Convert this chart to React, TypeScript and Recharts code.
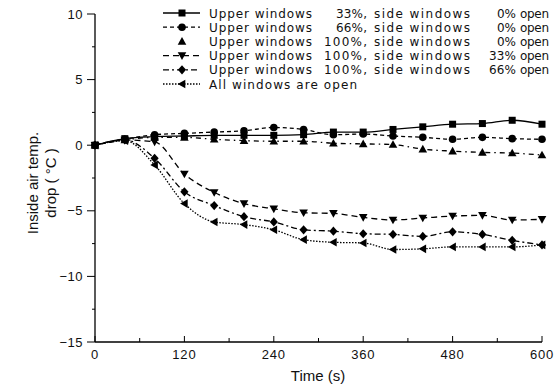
import { CartesianGrid, Line, LineChart, XAxis, YAxis } from "recharts";

const times = [0, 40, 80, 120, 160, 200, 240, 280, 320, 360, 400, 440, 480, 520, 560, 600];

const upper33 = [0, 0.5, 0.65, 0.7, 0.75, 0.75, 0.75, 0.8, 1.0, 1.0, 1.2, 1.4, 1.6, 1.65, 1.9, 1.6];
const upper66 = [0, 0.45, 0.8, 0.9, 1.0, 1.1, 1.35, 1.2, 0.8, 0.85, 0.7, 0.6, 0.45, 0.6, 0.5, 0.45];
const upper100 = [0, 0.4, 0.6, 0.6, 0.45, 0.35, 0.3, 0.3, 0.15, 0.1, 0.05, -0.3, -0.45, -0.55, -0.6, -0.75];
const side33 = [0, 0.4, 0.25, -2.2, -3.6, -4.45, -4.85, -5.15, -5.2, -5.5, -5.7, -5.55, -5.4, -5.35, -5.7, -5.65];
const side66 = [0, 0.4, -1.0, -3.55, -4.6, -5.45, -5.85, -6.45, -6.55, -6.75, -6.8, -6.95, -6.6, -6.8, -7.25, -7.6];
const allOpen = [0, 0.35, -1.5, -4.45, -5.85, -6.05, -6.45, -7.2, -7.4, -7.45, -7.95, -7.9, -7.75, -7.75, -7.75, -7.6];

const xTicks = [0, 60, 120, 180, 240, 300, 360, 420, 480, 540, 600];
const yTicks = [-15, -12.5, -10, -7.5, -5, -2.5, 0, 2.5, 5, 7.5, 10];

type Shape = "square" | "circle" | "up" | "down" | "diamond" | "left";

const seriesList: { key: string; values: number[]; shape: Shape; dash?: string; upperPct: string; sidePct: string }[] = [
  { key: "s1", values: upper33, shape: "square", upperPct: "33%,", sidePct: "0%" },
  { key: "s2", values: upper66, shape: "circle", dash: "4 3", upperPct: "66%,", sidePct: "0%" },
  { key: "s3", values: upper100, shape: "up", dash: "5 4 1.5 4", upperPct: "100%,", sidePct: "0%" },
  { key: "s4", values: side33, shape: "down", dash: "6 4", upperPct: "100%,", sidePct: "33%" },
  { key: "s5", values: side66, shape: "diamond", dash: "6 3 2 3", upperPct: "100%,", sidePct: "66%" },
  { key: "s6", values: allOpen, shape: "left", dash: "1.5 1.5", upperPct: "", sidePct: "" },
];

const data = times.map((t, i) => {
  const row: Record<string, number> = { t };
  for (const s of seriesList) row[s.key] = s.values[i];
  return row;
});

const FONT = "Arial, 'Liberation Sans', sans-serif";
const LEGEND_FONT = "'DejaVu Sans', Verdana, sans-serif";

function Marker({ shape, cx, cy }: { shape: Shape; cx: number; cy: number }) {
  const r = 3.8;
  switch (shape) {
    case "square":
      return <rect x={cx - 3.5} y={cy - 3.5} width={7} height={7} fill="#000" />;
    case "circle":
      return <circle cx={cx} cy={cy} r={3.8} fill="#000" />;
    case "up":
      return <polygon points={`${cx},${cy - r - 0.5} ${cx - r - 0.5},${cy + r - 0.5} ${cx + r + 0.5},${cy + r - 0.5}`} fill="#000" />;
    case "down":
      return <polygon points={`${cx},${cy + r + 0.5} ${cx - r - 0.5},${cy - r + 0.5} ${cx + r + 0.5},${cy - r + 0.5}`} fill="#000" />;
    case "diamond":
      return <polygon points={`${cx},${cy - r - 0.8} ${cx + r + 0.3},${cy} ${cx},${cy + r + 0.8} ${cx - r - 0.3},${cy}`} fill="#000" />;
    case "left":
      return <polygon points={`${cx - r - 0.5},${cy} ${cx + r - 0.5},${cy - r - 0.5} ${cx + r - 0.5},${cy + r + 0.5}`} fill="#000" />;
  }
}

function XTick({ x, y, payload }: any) {
  const v = payload.value as number;
  const major = v % 120 === 0;
  return (
    <g>
      <line x1={x} y1={y} x2={x} y2={y - (major ? 6 : 4)} stroke="#000" strokeWidth={1} />
      {major && (
        <text x={x} y={y + 17} textAnchor="middle" fontSize={13} fontFamily={FONT} letterSpacing={0.8} fill="#111">
          {v}
        </text>
      )}
    </g>
  );
}

function YTick({ x, y, payload }: any) {
  const v = payload.value as number;
  const major = v % 5 === 0;
  return (
    <g>
      <line x1={x} y1={y} x2={x - (major ? 8 : 3)} y2={y} stroke="#000" strokeWidth={1} />
      {major && (
        <text x={x - 12} y={y + 4.5} textAnchor="end" fontSize={13} fontFamily={FONT} letterSpacing={0.5} fill="#111">
          {v < 0 ? `\u2212${Math.abs(v)}` : v}
        </text>
      )}
    </g>
  );
}

const pctWidth: Record<string, number> = { "33%,": 31, "66%,": 31, "100%,": 43, "0%": 19, "33%": 27, "66%": 27 };

function Legend() {
  const rowY = (i: number) => 13 + i * 14.2;
  return (
    <svg width={559} height={392} style={{ position: "absolute", left: 0, top: 0, pointerEvents: "none" }}>
      {seriesList.map((s, i) => {
        const y = rowY(i);
        const ty = y + 4.5;
        return (
          <g key={s.key} fontFamily={LEGEND_FONT} fontSize={12} fill="#111">
            {s.shape !== "up" && (
              <line x1={163} y1={y} x2={200} y2={y} stroke="#000" strokeWidth={1.3} strokeDasharray={s.dash} />
            )}
            <Marker shape={s.shape} cx={182} cy={y} />
            {s.key === "s6" ? (
              <text x={209} y={ty} textLength={148} lengthAdjust="spacing">
                All windows are open
              </text>
            ) : (
              <>
                <text x={209} y={ty} textLength={103} lengthAdjust="spacing">
                  Upper windows
                </text>
                <text x={367 - pctWidth[s.upperPct]} y={ty} textLength={pctWidth[s.upperPct]} lengthAdjust="spacing">
                  {s.upperPct}
                </text>
                <text x={374} y={ty} textLength={96} lengthAdjust="spacing">
                  side windows
                </text>
                <text x={516 - pctWidth[s.sidePct]} y={ty} textLength={pctWidth[s.sidePct]} lengthAdjust="spacing">
                  {s.sidePct}
                </text>
                <text x={520} y={ty} textLength={29} lengthAdjust="spacing">
                  open
                </text>
              </>
            )}
          </g>
        );
      })}
      <g fontFamily={FONT} fontSize={15} fill="#111" textAnchor="middle">
        <text transform="translate(38,183) rotate(-90)">Inside air temp.</text>
        <text transform="translate(56,183) rotate(-90)">drop ( °C )</text>
        <text x={318} y={381}>Time (s)</text>
      </g>
    </svg>
  );
}

export default function App() {
  return (
    <div style={{ position: "absolute", left: 0, top: 0, width: 559, height: 392, background: "#fff" }}>
      <LineChart width={559} height={392} data={data} margin={{ top: 14, right: 17, bottom: 0, left: 0 }}>
        <CartesianGrid stroke="none" />
        <XAxis
          dataKey="t"
          type="number"
          domain={[0, 600]}
          ticks={xTicks}
          height={50}
          axisLine={{ stroke: "#000", strokeWidth: 1.3 }}
          tickLine={false}
          tickSize={0}
          tickMargin={0}
          tick={<XTick />}
          interval={0}
        />
        <YAxis
          type="number"
          domain={[-15, 10]}
          ticks={yTicks}
          width={95}
          axisLine={{ stroke: "#000", strokeWidth: 1.3 }}
          tickLine={false}
          tickSize={0}
          tickMargin={0}
          tick={<YTick />}
          interval={0}
        />
        {seriesList.map((s) => (
          <Line
            key={s.key}
            dataKey={s.key}
            type="monotone"
            stroke="#000"
            strokeWidth={1.3}
            strokeDasharray={s.dash}
            isAnimationActive={false}
            dot={(p: any) => <Marker key={`${s.key}-${p.index}`} shape={s.shape} cx={p.cx} cy={p.cy} />}
            activeDot={false}
          />
        ))}
      </LineChart>
      <Legend />
    </div>
  );
}
